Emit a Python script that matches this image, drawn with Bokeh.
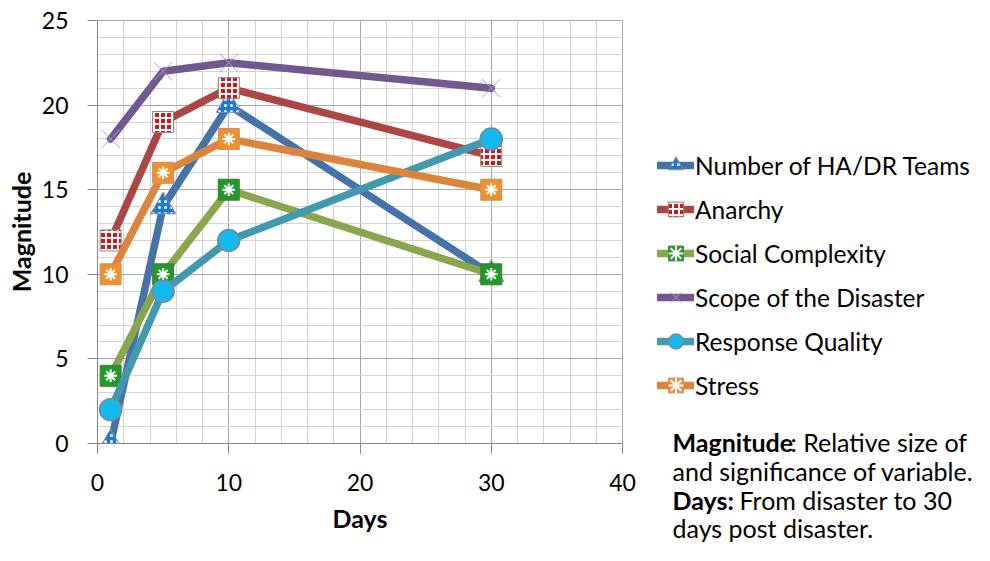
from bokeh.plotting import figure
from bokeh.layouts import row
from bokeh.models import Legend, LegendItem, Label, SingleIntervalTicker, Range1d
from bokeh.embed import file_html
from bokeh.resources import INLINE

# ---- data ----
days = [1, 5, 10, 30]
teams = [0, 14, 20, 10]
anarchy = [12, 19, 21, 17]
social = [4, 10, 15, 10]
scope = [18, 22, 22.5, 21]
quality = [2, 9, 12, 18]
stress = [10, 16, 18, 15]
names = ["Number of HA/DR Teams", "Anarchy", "Social Complexity",
         "Scope of the Disaster", "Response Quality", "Stress"]
x_title = "Days"
y_title = "Magnitude"
note_lines = [
    [("Magnitude", "bold"), (": Relative size of", "normal")],
    [("and significance of variable.", "normal")],
    [("Days:", "bold"), ("From disaster to 30", "normal")],
    [("days post disaster.", "normal")],
]

FONT = "Lato"
H = 545

p = figure(width=640, height=H,
           x_range=Range1d(0, 40), y_range=Range1d(0, 25),
           output_backend="svg", toolbar_location=None,
           min_border_left=97, min_border_right=18,
           min_border_top=20, min_border_bottom=102)
p.frame_align = False
p.background_fill_color = "white"
p.border_fill_color = "white"
p.outline_line_color = "#a6a6a6"

p.xaxis.ticker = SingleIntervalTicker(interval=10, num_minor_ticks=5)
p.yaxis.ticker = SingleIntervalTicker(interval=5, num_minor_ticks=5)

for g in (p.xgrid, p.ygrid):
    g.grid_line_color = "#a6a6a6"
    g.grid_line_width = 1
    g.minor_grid_line_color = "#d4d4d4"
    g.minor_grid_line_width = 1

for ax in (p.xaxis, p.yaxis):
    ax.axis_line_color = "#868686"
    ax.major_tick_line_color = "#868686"
    ax.major_tick_in = 0
    ax.major_tick_out = 10
    ax.minor_tick_line_color = None
    ax.major_label_text_font = FONT
    ax.major_label_text_font_size = "23px"
    ax.major_label_text_color = "#000000"
    ax.axis_label_text_font = FONT
    ax.axis_label_text_font_style = "bold"
    ax.axis_label_text_font_size = "25px"
    ax.axis_label_text_color = "#000000"

p.xaxis.axis_label = x_title
p.yaxis.axis_label = y_title
p.xaxis.major_label_standoff = 20
p.yaxis.major_label_standoff = 19
p.xaxis.axis_label_standoff = 9
p.yaxis.axis_label_standoff = 3

# side figure holding the legend and the notes
s = figure(width=334, height=H, x_range=Range1d(100, 101), y_range=Range1d(100, 101),
           output_backend="svg", toolbar_location=None,
           x_axis_location=None, y_axis_location=None, min_border=0)
s.frame_align = False
s.outline_line_color = None
s.grid.visible = False
s.background_fill_color = "white"
s.border_fill_color = "white"

LW = 7.5
STYLES = [
    dict(line_color="#4572A7", marker="triangle", size=25, fill="#1a7ad4", hatch="."),
    dict(line_color="#AA4643", marker="square", size=21, fill="#d41515", hatch="+"),
    dict(line_color="#89A54E", marker="square", size=21, fill="#1f9a2a", lc="#4a7a3a", overlay="white"),
    dict(line_color="#71588F", marker="x", size=26, fill=None, lc="#a99bd0", lw=1),
    dict(line_color="#4198AF", marker="circle", size=22, fill="#14b9f2", lc="#7a8a90", lw=1.5),
    dict(line_color="#DB843D", marker="square", size=21, fill="#f0902c", lc="#c09070", overlay="white"),
]

def add_series(fig, ys, line_color, marker, size, fill, lc="#8a8a8a", lw=1,
               hatch=None, overlay=None):
    rs = [fig.line(days, ys, line_color=line_color, line_width=LW,
                   line_join="round", line_cap="round")]
    kw = {}
    if hatch:
        kw = dict(hatch_pattern=hatch, hatch_color="white", hatch_scale=6, hatch_weight=2)
    rs.append(fig.scatter(days, ys, marker=marker, size=size, fill_color=fill,
                          line_color=lc, line_width=lw, **kw))
    if overlay:
        rs.append(fig.scatter(days, ys, marker="asterisk", size=size * 0.6,
                              line_color=overlay, line_width=2))
    return rs

series = [teams, anarchy, social, scope, quality, stress]
items = []
for ys, name, st in zip(series, names, STYLES):
    add_series(p, ys, **st)
    rs = add_series(s, ys, **st)
    items.append(LegendItem(label=name, renderers=rs))

legend = Legend(items=items, location=(17, 138))
legend.background_fill_alpha = 0
legend.border_line_alpha = 0
legend.padding = 0
legend.margin = 0
legend.spacing = 0
legend.glyph_width = 37
legend.glyph_height = 44
legend.label_height = 44
legend.label_standoff = 1
legend.label_text_font = FONT
legend.label_text_font_size = "24.5px"
legend.label_text_color = "#000000"
legend.label_text_baseline = "middle"
s.add_layout(legend, "center")

NOTE_X = 32
NOTE_Y = [104, 75, 46, 18]
BOLD_W = {"Magnitude": 118, "Days:": 67}
for line, y in zip(note_lines, NOTE_Y):
    x = NOTE_X
    for txt, style in line:
        s.add_layout(Label(x=x, y=y, x_units="screen", y_units="screen", text=txt,
                           text_font=FONT, text_font_style=style, text_font_size="25px",
                           text_color="#000000", text_baseline="middle", text_align="left"))
        x += BOLD_W.get(txt, 0)

layout = row(p, s, spacing=0)
open("out.html", "w").write(file_html(layout, INLINE))
